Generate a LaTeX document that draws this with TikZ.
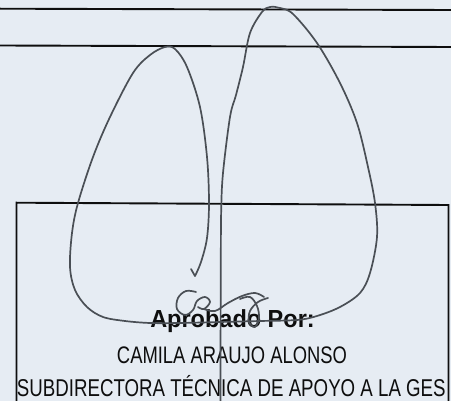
\documentclass[tikz,border=0pt]{standalone}
\usepackage{fontspec}
\setmainfont{Liberation Sans}
\definecolor{paper}{HTML}{E6ECF3}
\definecolor{ink}{HTML}{4A4F55}
\definecolor{print}{HTML}{0E0E0E}
\tikzset{
  rule/.style={draw=print, line width=1.9pt},
  pen/.style={draw=ink, line width=1.7pt, line cap=round, line join=round},
  txt/.style={inner sep=0pt, text=print}
}
\begin{document}
\begin{tikzpicture}[x=1pt,y=-1pt]
\fill[paper] (0,0) rectangle (451,401);
\useasboundingbox (0,0) rectangle (451,401);
\begin{scope}
\clip (0,0) rectangle (451,401);
% printed rules
\draw[rule] (0,8.7) -- (451,10);
\draw[rule] (0,45.5) -- (451,47);
\draw[rule] (16.5,410) -- (16.5,202.7) -- (448.5,205) -- (448.5,410);
% texts
\node[txt, anchor=base] (t1) at (232.5,328) {\scalebox{1}[1.05]{\fontsize{23.5}{26}\selectfont\bfseries Aprobado Por:}};
\node[txt, anchor=base] (t2) at (232,364) {\scalebox{1}[1.3]{\fontsize{18.4}{22}\selectfont CAMILA ARAUJO ALONSO}};
\node[txt, anchor=base west] (t3) at (16.7,397) {\scalebox{1}[1.3]{\fontsize{18.7}{22}\selectfont SUBDIRECTORA TÉCNICA DE APOYO A LA GES}};
% signature: main loops
\draw[pen] plot[smooth, tension=0.55] coordinates {
 (220.5,405) (220.6,330) (220.8,260) (221.2,210) (223,173) (230,117) (236,95) (243,67) (250,33) (262,12) (270,7) (280,8)
 (293,14) (317,43) (340,83) (357,123) (368,167) (375,203) (377,237) (370,273) (360,293) (340,307) (317,316)
 (297,320) (260,321) (220,322) (180,323) (150,323) (125,321) (103,317) (87,307) (75,290) (70,267)
 (72,233) (78,203) (93,157) (110,117) (133,73) (150,55) (165,47) (175,49) (187,67) (200,107) (207,157)
 (209,203) (207,238) (201,262) (195,276)};
\draw[pen] (195,276) -- (191,269);
% signature: small letters
\draw[pen] plot[smooth, tension=0.6] coordinates {
 (196,292) (186,291) (178,298) (177,309) (185,315) (193,310) (197,301) (205,297) (210,302) (204,309) (198,307)};
\draw[pen] plot[smooth, tension=0.6] coordinates {
 (204,309) (215,311) (228,303) (242,296) (255,293) (264,297)};
\draw[pen] plot[smooth, tension=0.6] coordinates {
 (240,299) (250,297) (257,306) (259,318) (255,327) (249,322) (250,311) (258,302) (268,298)};
\end{scope}
\end{tikzpicture}
\end{document}
